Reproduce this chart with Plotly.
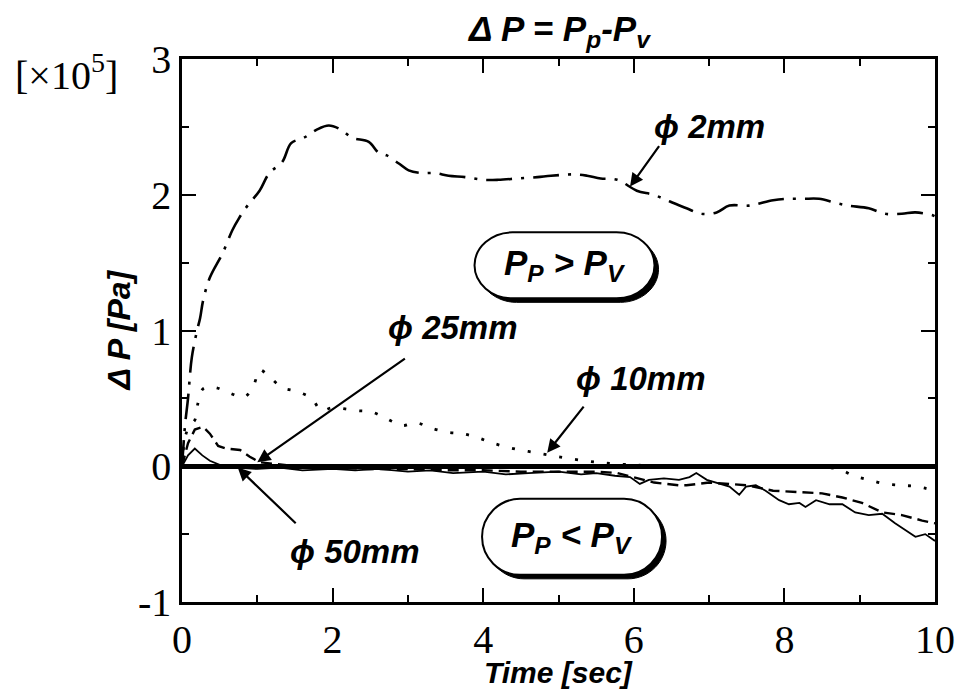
import plotly.graph_objects as go

# ---------------- data ----------------
t_2mm = [0, 0.04, 0.08, 0.13, 0.2, 0.24, 0.28, 0.37, 0.54, 0.67, 0.76, 0.87, 1.03, 1.16, 1.33, 1.45,
         1.62, 1.79, 1.95, 2.11, 2.26, 2.48, 2.61, 2.72, 2.88, 3.01, 3.18, 3.36, 3.54, 3.76, 4.0,
         4.2, 4.46, 4.72, 4.9, 5.21, 5.38, 5.56, 5.78, 6.04, 6.26, 6.48, 6.7, 6.9, 7.1, 7.27,
         7.53, 7.85, 8.02, 8.25, 8.46, 8.68, 8.85, 9.12, 9.34, 9.56, 9.74, 9.96, 10.0]
p_2mm = [0, 0.3, 0.5, 0.8, 1.0, 1.09, 1.22, 1.39, 1.57, 1.74, 1.83, 1.92, 2.03, 2.16, 2.24, 2.38,
         2.42, 2.48, 2.51, 2.48, 2.42, 2.39, 2.31, 2.29, 2.23, 2.18, 2.16, 2.16, 2.14, 2.13, 2.11,
         2.11, 2.12, 2.13, 2.14, 2.15, 2.14, 2.12, 2.11, 2.03, 2.0, 1.95, 1.9, 1.86, 1.87, 1.92,
         1.92, 1.96, 1.97, 1.97, 1.97, 1.94, 1.92, 1.9, 1.86, 1.86, 1.87, 1.85, 1.84]

t_10mm = [0, 0.04, 0.1, 0.17, 0.21, 0.28, 0.44, 0.63, 0.83, 0.96, 1.03, 1.16, 1.33, 1.53, 1.72,
          1.85, 1.99, 2.32, 2.52, 2.72, 2.92, 3.11, 3.31, 3.54, 3.73, 3.93, 4.13, 4.4, 4.7, 5.0,
          5.5, 6.0, 6.5, 7.0, 7.5, 8.1, 8.55, 8.72, 8.92, 9.12, 9.34, 9.56, 9.76, 10.0]
p_10mm = [0, 0.21, 0.3, 0.34, 0.46, 0.57, 0.58, 0.54, 0.51, 0.61, 0.71, 0.66, 0.58, 0.55, 0.5,
          0.41, 0.43, 0.41, 0.4, 0.35, 0.3, 0.32, 0.28, 0.25, 0.24, 0.21, 0.17, 0.13, 0.1, 0.07,
          0.03, 0.01, 0.0, 0.0, -0.01, -0.01, -0.01, -0.02, -0.07, -0.1, -0.13, -0.14, -0.15, -0.18]

t_25mm = [0, 0.08, 0.17, 0.28, 0.37, 0.48, 0.59, 0.77, 0.9, 1.03, 1.5, 2.0, 2.5, 3.0, 3.5, 4.0,
          4.5, 5.0, 5.51, 5.78, 6.0, 6.27, 6.6, 6.7, 7.0, 7.5, 7.85, 8.15, 8.5, 8.77, 9.03, 9.3,
          9.56, 9.83, 10.0]
p_25mm = [0, 0.17, 0.27, 0.29, 0.24, 0.15, 0.13, 0.12, 0.07, 0.03, 0.0, -0.01, -0.02, -0.02,
          -0.03, -0.03, -0.04, -0.04, -0.04, -0.05, -0.08, -0.12, -0.14, -0.14, -0.12, -0.14,
          -0.18, -0.19, -0.2, -0.23, -0.27, -0.34, -0.36, -0.4, -0.42]

t_50mm = [0, 0.08, 0.17, 0.27, 0.37, 0.5, 0.7, 1.0, 1.3, 1.6, 2.0, 2.3, 2.6, 3.0, 3.3, 3.6, 4.0,
          4.3, 4.6, 5.0, 5.3, 5.5, 5.75, 5.95, 6.08, 6.2, 6.4, 6.6, 6.74, 6.83, 6.97, 7.14, 7.27,
          7.4, 7.49, 7.62, 7.75, 7.93, 8.06, 8.2, 8.28, 8.42, 8.6, 8.77, 8.94, 9.12, 9.3, 9.47,
          9.6, 9.74, 9.87, 10.0]
p_50mm = [0, 0.08, 0.13, 0.08, 0.04, 0.01, -0.01, -0.02, -0.01, -0.03, -0.02, -0.03, -0.02,
          -0.04, -0.03, -0.05, -0.04, -0.06, -0.05, -0.04, -0.06, -0.05, -0.07, -0.08, -0.13,
          -0.1, -0.09, -0.1, -0.08, -0.05, -0.1, -0.13, -0.15, -0.21, -0.15, -0.14, -0.18,
          -0.25, -0.28, -0.27, -0.3, -0.25, -0.28, -0.28, -0.34, -0.36, -0.35, -0.42, -0.47,
          -0.52, -0.5, -0.55]

x_ticks = [0, 2, 4, 6, 8, 10]
y_ticks = [-1, 0, 1, 2, 3]
y_ticktext = ["-1", "0", "1", "2", "3"]

# label text, label position (data), arrow tail, arrow tip
labels = ["\u03d5 2mm", "\u03d5 10mm", "\u03d5 25mm", "\u03d5 50mm"]
label_xy = [(7.0, 2.50), (6.1, 0.65), (3.6, 1.02), (2.3, -0.63)]
arrow_tail = [(6.35, 2.37), (5.35, 0.45), (2.98, 0.80), (1.53, -0.43)]
arrow_tip = [(5.95, 2.06), (4.85, 0.10), (1.00, 0.03), (0.74, -0.01)]

regions = ["P<sub>P</sub> > P<sub>V</sub>", "P<sub>P</sub> < P<sub>V</sub>"]
region_xy = [(5.08, 1.48), (5.18, -0.52)]

SANS = "Liberation Sans, Arial, sans-serif"
SERIF = "Liberation Serif, Times New Roman, serif"

W, H = 967, 694
L, R, T, B = 182, 27, 59, 92
pw, ph = W - L - R, H - T - B

fig = go.Figure()
fig.add_trace(go.Scatter(x=t_2mm, y=p_2mm, mode="lines", line=dict(color="black", width=2.6, dash="26px,9px,3px,9px"), line_shape="spline"))
fig.add_trace(go.Scatter(x=t_10mm, y=p_10mm, mode="lines", line=dict(color="black", width=2.8, dash="3px,13px"), line_shape="spline"))
fig.add_trace(go.Scatter(x=t_25mm, y=p_25mm, mode="lines", line=dict(color="black", width=2.4, dash="11px,6px")))
fig.add_trace(go.Scatter(x=t_50mm, y=p_50mm, mode="lines", line=dict(color="black", width=1.8)))

ann = []
for txt, (lx, ly) in zip(labels, label_xy):
    ann.append(dict(x=lx, y=ly, xref="x", yref="y", text="<b><i>" + txt + "</i></b>",
                    showarrow=False, font=dict(family=SANS, size=33, color="black")))
for (ax_, ay_), (tx, ty) in zip(arrow_tail, arrow_tip):
    ann.append(dict(x=tx, y=ty, xref="x", yref="y", ax=ax_, ay=ay_, axref="x", ayref="y",
                    text="", showarrow=True, arrowhead=2, arrowsize=1.2, arrowwidth=2.2,
                    arrowcolor="black", standoff=0))
for txt, (rx, ry) in zip(regions, region_xy):
    ann.append(dict(x=rx, y=ry, xref="x", yref="y", text="<b><i>" + txt + "</i></b>",
                    showarrow=False, font=dict(family=SANS, size=35, color="black")))

ann.append(dict(x=(66 - L) / pw, y=(H - 72 - B) / ph, xref="paper", yref="paper",
                xanchor="center", yanchor="middle", text="[\u00d710<sup>5</sup>]",
                showarrow=False, font=dict(family=SERIF, size=40, color="black")))
ann.append(dict(x=0.5, y=1.0, xref="paper", yref="paper", xanchor="center", yanchor="bottom", yshift=4,
                text="<b><i>\u0394 P = P<sub>p</sub>-P<sub>v</sub></i></b>",
                showarrow=False, font=dict(family=SANS, size=35, color="black")))
ann.append(dict(x=0.5, y=0.0, xref="paper", yref="paper", xanchor="center", yanchor="bottom", yshift=-89,
                text="<b><i>Time [sec]</i></b>",
                showarrow=False, font=dict(family=SANS, size=30, color="black")))
ann.append(dict(x=0.0, y=0.5, xref="paper", yref="paper", xanchor="center", yanchor="middle", xshift=-64,
                textangle=-90, text="<b><i>\u0394 P [Pa]</i></b>",
                showarrow=False, font=dict(family=SANS, size=32, color="black")))

# rounded region boxes (pixel-sized, anchored at the region label positions)
def stadium(w, h, r, dx=0, dy=0):
    k = 0.55
    return (f"M {-w + r + dx},{h + dy} L {w - r + dx},{h + dy} "
            f"C {w - r + k * r + dx},{h + dy} {w + dx},{h * k + dy} {w + dx},{dy} "
            f"C {w + dx},{-h * k + dy} {w - r + k * r + dx},{-h + dy} {w - r + dx},{-h + dy} "
            f"L {-w + r + dx},{-h + dy} "
            f"C {-w + r - k * r + dx},{-h + dy} {-w + dx},{-h * k + dy} {-w + dx},{dy} "
            f"C {-w + dx},{h * k + dy} {-w + r - k * r + dx},{h + dy} {-w + r + dx},{h + dy} Z")

shapes = []
for (rx, ry), (w, h) in zip(region_xy, [(90, 33), (90, 38)]):
    shapes.append(dict(type="path", xref="x", yref="y", xsizemode="pixel", ysizemode="pixel",
                       xanchor=rx, yanchor=ry, path=stadium(w, h, 38, 4, -4),
                       fillcolor="black", line=dict(color="black", width=1), layer="above"))
    shapes.append(dict(type="path", xref="x", yref="y", xsizemode="pixel", ysizemode="pixel",
                       xanchor=rx, yanchor=ry, path=stadium(w, h, 38),
                       fillcolor="white", line=dict(color="black", width=2), layer="above"))

axis_common = dict(showline=True, linecolor="black", linewidth=2.5, mirror="ticks",
                   ticks="inside", ticklen=14, tickwidth=2, tickcolor="black",
                   showgrid=False, tickfont=dict(family=SERIF, size=40, color="black"))

fig.update_layout(
    width=W, height=H, margin=dict(l=L, r=R, t=T, b=B),
    paper_bgcolor="white", plot_bgcolor="white", showlegend=False,
    xaxis=dict(range=[0, 10], tickvals=x_ticks, zeroline=False,
               minor=dict(dtick=1, ticks="inside", ticklen=7, tickwidth=2, tickcolor="black", showgrid=False),
               **axis_common),
    yaxis=dict(range=[-1, 3], tickvals=y_ticks, ticktext=y_ticktext, zeroline=True,
               zerolinecolor="black", zerolinewidth=4.5,
               minor=dict(dtick=0.5, ticks="inside", ticklen=7, tickwidth=2, tickcolor="black", showgrid=False),
               **axis_common),
    annotations=ann, shapes=shapes,
)

fig.write_html("out.html")
